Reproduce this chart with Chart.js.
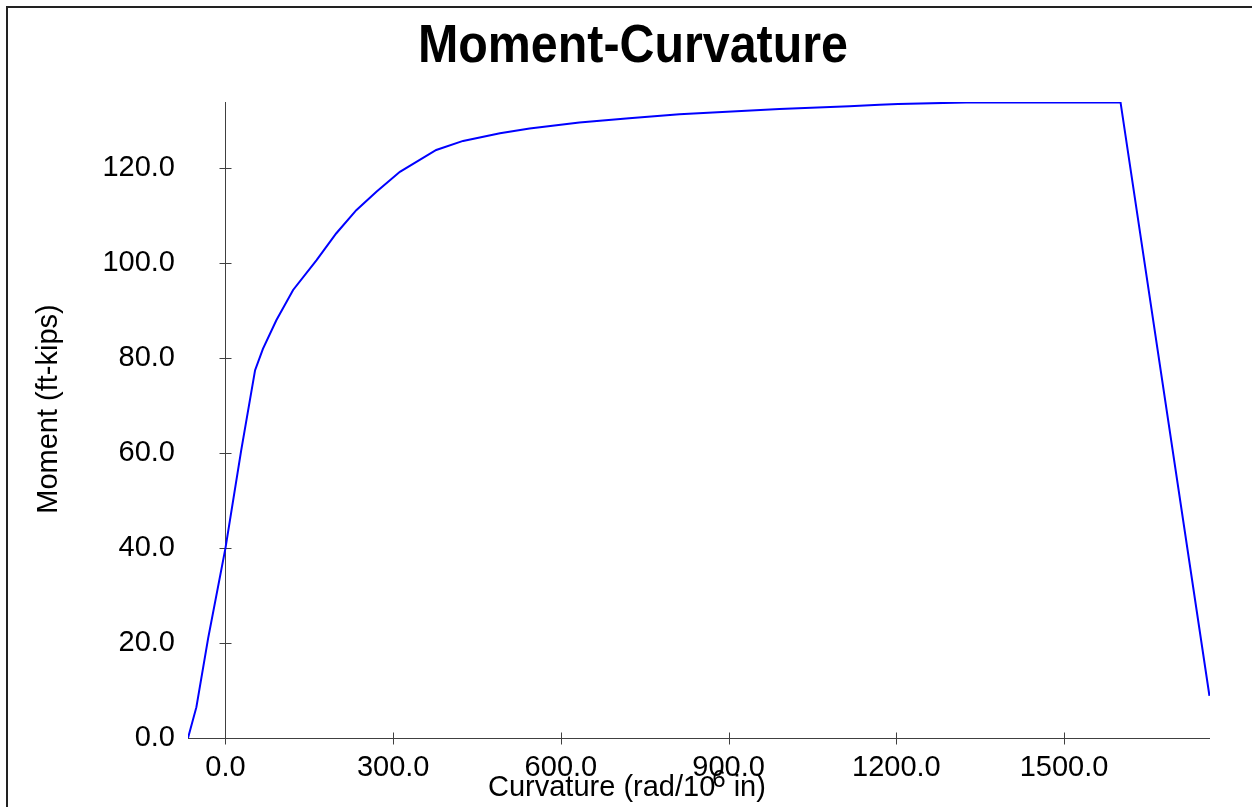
<!DOCTYPE html>
<html>
<head>
<meta charset="utf-8">
<title>Moment-Curvature</title>
<script src="https://cdn.jsdelivr.net/npm/chart.js@4.4.1/dist/chart.umd.min.js"></script>
<style>
    html, body { margin: 0; padding: 0; background: #fff; overflow: hidden; }
    #wrap { width: 1252px; height: 807px; position: relative; }
</style>
</head>
<body>
<div id="wrap"><canvas id="mcChart"></canvas></div>
<script>
// Moment-curvature curve
const curvature = [-67, -52, -31, 0, 28, 53, 67, 91, 121, 163, 198, 234, 270, 312, 377, 425, 491, 544, 633, 722, 812, 991, 1116, 1170, 1203, 1325, 1601, 1760];
const moment    = [0.0, 6.5, 21.0, 40.0, 60.5, 77.5, 82.0, 88.0, 94.4, 100.7, 106.3, 111.2, 115.1, 119.3, 123.9, 125.8, 127.4, 128.4, 129.7, 130.6, 131.4, 132.5, 133.1, 133.4, 133.6, 133.9, 133.9, 8.9];

const xTicks = [0, 300, 600, 900, 1200, 1500];
const yTicks = [0, 20, 40, 60, 80, 100, 120];

const FONT = '"Liberation Sans", Arial, sans-serif';

// axes cross at zero, with tick marks crossing the axis lines
const crossAxes = {
    id: 'crossAxes',
    beforeDatasetsDraw(chart) {
        const { ctx, chartArea: a, scales: { x, y } } = chart;
        const x0 = Math.round(x.getPixelForValue(0)) + 0.5;
        const y0 = Math.round(y.getPixelForValue(0)) + 0.5;
        ctx.save();
        ctx.strokeStyle = '#404040';
        ctx.lineWidth = 1;
        ctx.beginPath();
        ctx.moveTo(x0, a.top);
        ctx.lineTo(x0, a.bottom);
        ctx.moveTo(a.left, y0);
        ctx.lineTo(a.right, y0);
        yTicks.forEach(v => {
            const p = Math.round(y.getPixelForValue(v)) + 0.5;
            ctx.moveTo(x0 - 6, p);
            ctx.lineTo(x0 + 6, p);
        });
        xTicks.forEach(v => {
            const p = Math.round(x.getPixelForValue(v)) + 0.5;
            ctx.moveTo(p, y0 - 6);
            ctx.lineTo(p, y0 + 6);
        });
        ctx.stroke();
        ctx.restore();
    },
    afterDraw(chart) {
        const { ctx } = chart;
        ctx.save();

        // frame
        ctx.strokeStyle = '#222';
        ctx.lineWidth = 2;
        ctx.beginPath();
        ctx.moveTo(7, chart.height);
        ctx.lineTo(7, 7);
        ctx.lineTo(chart.width, 7);
        ctx.stroke();

        ctx.fillStyle = '#000';

        // title
        ctx.font = 'bold 53px ' + FONT;
        ctx.textAlign = 'center';
        ctx.textBaseline = 'alphabetic';
        ctx.fillText('Moment-Curvature', 633, 62, 430);

        // y axis title
        ctx.font = '29px ' + FONT;
        ctx.save();
        ctx.translate(57, 409);
        ctx.rotate(-Math.PI / 2);
        ctx.textAlign = 'center';
        ctx.fillText('Moment (ft-kips)', 0, 0);
        ctx.restore();

        // x axis title with superscript
        ctx.textAlign = 'left';
        const part1 = 'Curvature (rad/10';
        const part2 = ' in)';
        let tx = 488;
        const base = 796;
        ctx.font = '29px ' + FONT;
        ctx.fillText(part1, tx, base);
        tx += ctx.measureText(part1).width - 3;
        ctx.font = '24px ' + FONT;
        ctx.fillText('6', tx, base - 9);
        tx += ctx.measureText('6').width;
        ctx.font = '29px ' + FONT;
        ctx.fillText(part2, tx, base);

        ctx.restore();
    }
};

const points = curvature.map((c, i) => ({ x: c, y: moment[i] }));

new Chart(document.getElementById('mcChart'), {
    type: 'scatter',
    data: {
        datasets: [{
            data: points,
            showLine: true,
            borderColor: '#0000ff',
            borderWidth: 2,
            pointRadius: 0,
            tension: 0,
            fill: false
        }]
    },
    options: {
        responsive: true,
        maintainAspectRatio: false,
        animation: false,
        events: [],
        layout: { padding: { top: 102, right: 42, bottom: 0, left: 0 } },
        plugins: {
            legend: { display: false },
            title: { display: false },
            tooltip: { enabled: false }
        },
        scales: {
            x: {
                type: 'linear',
                min: -67,
                max: 1761,
                afterBuildTicks: s => { s.ticks = xTicks.map(v => ({ value: v })); },
                afterFit: s => { s.height = 69; },
                grid: { display: false, drawTicks: false },
                border: { display: false },
                ticks: {
                    padding: 13,
                    color: '#000',
                    font: { family: FONT, size: 29 },
                    maxRotation: 0,
                    callback: v => Number(v).toFixed(1)
                }
            },
            y: {
                type: 'linear',
                min: 0,
                max: 134,
                afterBuildTicks: s => { s.ticks = yTicks.map(v => ({ value: v })); },
                afterFit: s => { s.width = 188; },
                grid: { display: false, drawTicks: false },
                border: { display: false },
                ticks: {
                    padding: 13,
                    color: '#000',
                    font: { family: FONT, size: 29 },
                    callback: v => Number(v).toFixed(1)
                }
            }
        }
    },
    plugins: [crossAxes]
});
</script>
</body>
</html>
